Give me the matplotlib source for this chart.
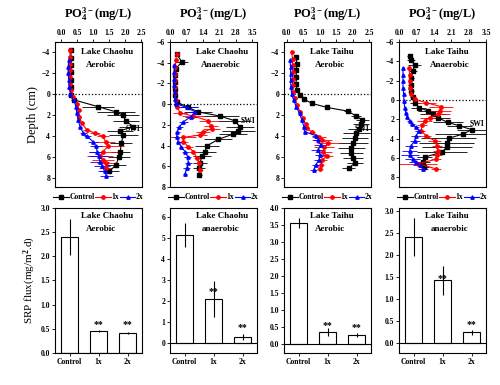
import matplotlib
matplotlib.use('Agg')
from matplotlib import pyplot as plt

plt.rcParams['font.family'] = ['Liberation Serif', 'DejaVu Serif']
plt.rcParams['font.weight'] = 'bold'
plt.rcParams['mathtext.fontset'] = 'custom'
plt.rcParams['mathtext.rm'] = 'Liberation Serif:bold'
plt.rcParams['mathtext.it'] = 'Liberation Serif:bold'
plt.rcParams['mathtext.bf'] = 'Liberation Serif:bold'
plt.rcParams['axes.linewidth'] = 0.8

#profiles: depth (cm), PO4 (mg/L), error
#Lake Chaohu aerobic
CHA_AER_CTRL_D = [-4.2, -3.5, -2.8, -2.1, -1.4, -0.7, 0.1, 0.55, 1.2, 1.7, 2.0, 2.6, 3.1, 3.5, 3.9, 4.7, 5.5, 6.0, 6.75, 7.4]
CHA_AER_CTRL_X = [0.3, 0.3, 0.3, 0.3, 0.3, 0.3, 0.31, 0.4, 1.15, 1.71, 1.92, 2.02, 2.25, 1.84, 1.94, 1.87, 1.84, 1.8, 1.71, 1.5]
CHA_AER_CTRL_E = [0.03, 0.03, 0.03, 0.03, 0.03, 0.03, 0.05, 0.1, 0.5, 0.6, 0.5, 0.4, 0.45, 0.4, 0.45, 0.35, 0.3, 0.35, 0.3, 0.3]
CHA_AER_1X_D = [-4.2, -3.55, -2.9, -2.3, -1.65, -1.0, -0.4, 0.25, 0.9, 1.5, 2.15, 2.8, 3.4, 3.75, 4.05, 4.55, 5.0, 5.5, 5.95, 6.3, 6.6, 7.1]
CHA_AER_1X_X = [0.26, 0.28, 0.28, 0.28, 0.28, 0.28, 0.3, 0.36, 0.5, 0.54, 0.56, 0.64, 0.79, 1.05, 1.3, 1.38, 1.46, 1.3, 1.2, 1.3, 1.4, 1.38]
CHA_AER_1X_E = [0.03, 0.03, 0.03, 0.03, 0.03, 0.03, 0.03, 0.05, 0.05, 0.05, 0.05, 0.05, 0.1, 0.15, 0.2, 0.3, 0.5, 0.45, 0.4, 0.35, 0.3, 0.2]
CHA_AER_2X_D = [-3.25, -2.6, -2.0, -1.35, -0.7, -0.05, 0.55, 1.2, 1.85, 2.5, 3.1, 3.75, 4.05, 4.55, 5.0, 5.5, 5.95, 6.45, 6.9, 7.4, 7.8]
CHA_AER_2X_X = [0.23, 0.21, 0.21, 0.23, 0.25, 0.28, 0.38, 0.46, 0.48, 0.53, 0.58, 0.69, 0.81, 0.99, 1.08, 1.12, 1.16, 1.2, 1.28, 1.35, 1.4]
CHA_AER_2X_E = [0.03, 0.03, 0.03, 0.03, 0.03, 0.03, 0.05, 0.05, 0.05, 0.05, 0.05, 0.1, 0.1, 0.15, 0.2, 0.25, 0.3, 0.3, 0.25, 0.2, 0.2]

#Lake Chaohu anaerobic
CHA_ANA_CTRL_D = [-4.87, -4.07, -3.43, -2.79, -2.15, -1.5, -0.87, -0.22, 0.32, 0.74, 1.15, 1.6, 2.18, 2.56, 2.88, 3.4, 4.0, 4.58, 5.0, 5.7, 6.19, 6.83]
CHA_ANA_CTRL_X = [0.28, 0.5, 0.25, 0.23, 0.21, 0.21, 0.23, 0.28, 0.78, 1.2, 2.12, 2.76, 2.97, 2.9, 2.69, 2.05, 1.58, 1.49, 1.36, 1.27, 1.24, 1.24]
CHA_ANA_CTRL_E = [0.05, 0.25, 0.05, 0.05, 0.05, 0.05, 0.05, 0.1, 0.4, 0.6, 0.8, 0.7, 0.6, 0.7, 0.6, 0.6, 0.5, 0.45, 0.4, 0.3, 0.25, 0.1]
CHA_ANA_1X_D = [-4.87, -4.23, -3.6, -2.95, -2.3, -1.67, -1.03, -0.38, 0.26, 0.83, 1.15, 1.6, 2.12, 2.37, 2.7, 2.98, 3.2, 3.62, 4.1, 4.58, 5.22, 5.7, 6.35]
CHA_ANA_1X_X = [0.28, 0.25, 0.23, 0.21, 0.21, 0.21, 0.21, 0.24, 0.31, 0.42, 0.99, 1.63, 1.73, 1.77, 1.41, 1.27, 0.57, 0.57, 0.78, 0.99, 1.16, 1.22, 1.27]
CHA_ANA_1X_E = [0.03, 0.03, 0.03, 0.03, 0.03, 0.03, 0.03, 0.03, 0.1, 0.3, 0.5, 0.4, 0.3, 0.35, 0.3, 0.3, 0.55, 0.2, 0.2, 0.2, 0.15, 0.15, 0.15]
CHA_ANA_2X_D = [-3.75, -3.1, -2.47, -1.83, -1.19, -0.54, -0.06, 0.32, 0.74, 1.22, 1.7, 2.18, 2.66, 3.14, 3.62, 4.1, 4.58, 5.06, 5.7, 6.19, 6.73]
CHA_ANA_2X_X = [0.18, 0.18, 0.18, 0.18, 0.2, 0.21, 0.25, 0.71, 1.06, 0.88, 0.57, 0.4, 0.31, 0.28, 0.35, 0.47, 0.64, 0.75, 0.78, 0.71, 0.64]
CHA_ANA_2X_E = [0.03, 0.03, 0.03, 0.03, 0.03, 0.03, 0.05, 0.5, 0.3, 0.25, 0.2, 0.15, 0.1, 0.1, 0.1, 0.1, 0.15, 0.15, 0.15, 0.15, 0.1]

#Lake Taihu aerobic
TAI_AER_CTRL_D = [-3.56, -2.92, -2.29, -1.65, -1.02, -0.44, 0.1, 0.48, 0.89, 1.27, 1.62, 2.1, 2.48, 2.86, 3.3, 3.75, 4.22, 4.7, 5.17, 5.65, 6.13, 6.6, 7.08]
TAI_AER_CTRL_X = [0.29, 0.31, 0.29, 0.29, 0.29, 0.31, 0.39, 0.52, 0.77, 1.22, 1.84, 2.11, 2.29, 2.25, 2.19, 2.11, 2.06, 2.01, 1.96, 1.96, 2.01, 2.06, 1.88]
TAI_AER_CTRL_E = [0.05, 0.05, 0.05, 0.05, 0.05, 0.05, 0.05, 0.05, 0.05, 0.05, 0.1, 0.15, 0.2, 0.25, 0.35, 0.4, 0.4, 0.45, 0.4, 0.35, 0.3, 0.25, 0.2]
TAI_AER_1X_D = [-4.03, -3.4, -2.76, -2.13, -1.49, -0.86, -0.22, 0.41, 1.05, 1.68, 2.32, 2.86, 3.27, 3.65, 4.06, 4.38, 4.7, 5.08, 5.49, 5.9, 6.35, 6.76, 7.14]
TAI_AER_1X_X = [0.15, 0.18, 0.18, 0.18, 0.18, 0.18, 0.19, 0.24, 0.31, 0.41, 0.49, 0.57, 0.62, 0.77, 0.98, 1.08, 1.26, 1.13, 1.11, 1.21, 1.08, 1.03, 1.01]
TAI_AER_1X_E = [0.03, 0.03, 0.03, 0.03, 0.03, 0.03, 0.03, 0.03, 0.05, 0.05, 0.05, 0.05, 0.05, 0.1, 0.2, 0.3, 0.35, 0.3, 0.25, 0.2, 0.15, 0.1, 0.1]
TAI_AER_2X_D = [-3.24, -2.6, -1.97, -1.33, -0.7, -0.06, 0.57, 1.21, 1.84, 2.48, 3.11, 3.59, 3.97, 4.38, 4.86, 5.33, 5.81, 6.29, 6.76, 7.24]
TAI_AER_2X_X = [0.1, 0.12, 0.12, 0.12, 0.13, 0.15, 0.21, 0.29, 0.39, 0.46, 0.52, 0.54, 0.88, 0.95, 1.03, 0.95, 1.01, 0.98, 0.88, 0.82]
TAI_AER_2X_E = [0.03, 0.03, 0.03, 0.03, 0.03, 0.03, 0.05, 0.05, 0.05, 0.05, 0.05, 0.05, 0.1, 0.15, 0.2, 0.2, 0.15, 0.15, 0.1, 0.1]

#Lake Taihu anaerobic
TAI_ANA_CTRL_D = [-4.5, -4.1, -3.65, -2.97, -2.29, -1.6, -0.92, -0.34, 0.27, 0.78, 1.13, 1.47, 1.81, 2.32, 2.66, 3.07, 3.52, 3.96, 4.44, 4.88, 5.39, 5.9, 6.42, 6.93]
TAI_ANA_CTRL_X = [0.43, 0.49, 0.63, 0.56, 0.49, 0.47, 0.49, 0.56, 0.63, 0.8, 1.16, 1.36, 1.56, 1.96, 2.43, 2.93, 2.56, 2.0, 1.92, 1.92, 1.73, 1.03, 0.96, 1.0]
TAI_ANA_CTRL_E = [0.1, 0.15, 0.25, 0.15, 0.1, 0.1, 0.1, 0.1, 0.2, 0.3, 0.4, 0.5, 0.5, 0.6, 0.5, 0.6, 1.1, 1.1, 1.1, 1.0, 1.0, 0.3, 0.3, 0.2]
TAI_ANA_1X_D = [-3.31, -2.63, -1.95, -1.26, -0.58, -0.07, 0.27, 0.68, 1.13, 1.47, 1.81, 2.15, 2.59, 3.17, 3.69, 4.2, 4.71, 5.22, 5.67, 6.14, 6.59, 7.1]
TAI_ANA_1X_X = [0.4, 0.43, 0.43, 0.45, 0.49, 0.63, 1.09, 1.69, 1.63, 1.56, 1.23, 1.03, 0.93, 0.89, 1.09, 1.43, 1.52, 1.56, 1.52, 1.47, 0.76, 1.47]
TAI_ANA_1X_E = [0.05, 0.05, 0.05, 0.05, 0.05, 0.1, 0.4, 0.5, 0.45, 0.5, 0.4, 0.3, 0.2, 0.15, 0.2, 0.25, 0.2, 0.2, 0.2, 0.2, 0.75, 0.2]
TAI_ANA_2X_D = [-3.31, -2.63, -1.95, -1.26, -0.58, 0.1, 0.78, 1.3, 1.71, 2.15, 2.49, 2.83, 3.17, 3.69, 4.2, 4.71, 5.22, 5.73, 6.08, 6.42, 6.76, 7.1]
TAI_ANA_2X_X = [0.16, 0.16, 0.16, 0.16, 0.19, 0.2, 0.23, 0.27, 0.32, 0.43, 0.53, 0.69, 0.8, 0.69, 0.63, 0.49, 0.43, 0.45, 0.56, 0.69, 0.83, 0.96]
TAI_ANA_2X_E = [0.03, 0.03, 0.03, 0.03, 0.03, 0.03, 0.05, 0.05, 0.05, 0.1, 0.1, 0.1, 0.15, 0.2, 0.2, 0.25, 0.3, 0.35, 0.3, 0.3, 0.25, 0.2]

#SRP flux bars
BAR_LABELS = ['Control', '1x', '2x']
CHA_AER_FLUX = [2.4, 0.45, 0.42]
CHA_AER_FLUX_E = [0.38, 0.02, 0.02]
CHA_AER_STAR = [None, 0.6, 0.58]
CHA_ANA_FLUX = [5.15, 2.1, 0.3]
CHA_ANA_FLUX_E = [0.55, 0.85, 0.15]
CHA_ANA_STAR = [None, 2.45, 0.75]
TAI_AER_FLUX = [3.55, 0.35, 0.27]
TAI_AER_FLUX_E = [0.15, 0.12, 0.07]
TAI_AER_STAR = [None, 0.55, 0.5]
TAI_ANA_FLUX = [2.4, 1.42, 0.24]
TAI_ANA_FLUX_E = [0.42, 0.33, 0.05]
TAI_ANA_STAR = [None, 1.45, 0.42]

TITLE = r'PO$_4^{3-}$(mg/L)'
FS_TICK = 5.5


def draw_profile(ax, series, xlim, xticks, ylim, yticks, lake, cond, swi_y):
	styles = [('k', 's', 'Control'), ('r', 'o', '1x'), ('b', '^', '2x')]
	for (d, x, e), (c, m, lab) in zip(series, styles):
		ax.errorbar(x, d, xerr=e, color=c, marker=m, markersize=2.4, lw=0.8,
			elinewidth=0.6, capsize=0, label=lab)
	ax.axhline(0, color='k', ls=':', lw=0.9)
	ax.set_xlim(xlim)
	ax.set_ylim(ylim)
	ax.set_xticks(xticks)
	ax.set_yticks(yticks)
	ax.xaxis.tick_top()
	ax.tick_params(labelsize=FS_TICK, length=2, width=0.6, pad=1.5)
	ax.set_title(TITLE, fontsize=9, fontweight='bold', pad=8)
	ax.text(0.98, swi_y, 'SWI', transform=ax.transAxes, ha='right', va='bottom', fontsize=5.5)
	ax.text(0.3, 0.96, lake, transform=ax.transAxes, ha='left', va='top', fontsize=6.5)
	ax.text(0.36, 0.87, cond, transform=ax.transAxes, ha='left', va='top', fontsize=6.5)
	ax.legend(loc='center', bbox_to_anchor=(0.5, -0.07), ncol=3, frameon=False,
		fontsize=5.5, handlelength=2.0, handletextpad=0.1, columnspacing=0.1,
		borderaxespad=0, borderpad=0)


def draw_bars(ax, vals, errs, stars, ylim, yticks, lake, cond):
	pos = range(len(BAR_LABELS))
	ax.bar(pos, vals, width=0.6, color='white', edgecolor='k', lw=0.8)
	ax.errorbar(pos, vals, yerr=errs, fmt='none', ecolor='k', elinewidth=0.8, capsize=0)
	for p, s in zip(pos, stars):
		if s is not None:
			ax.text(p, s, '**', ha='center', va='center', fontsize=7)
	ax.axhline(0, color='k', lw=0.8)
	ax.set_xlim(-0.5, 2.5)
	ax.set_ylim(ylim)
	ax.set_yticks(yticks)
	ax.set_xticks(list(pos))
	ax.set_xticklabels(BAR_LABELS)
	ax.tick_params(labelsize=FS_TICK, length=2, width=0.6, pad=1.5)
	ax.text(0.3, 0.97, lake, transform=ax.transAxes, ha='left', va='top', fontsize=6.5)
	ax.text(0.36, 0.88, cond, transform=ax.transAxes, ha='left', va='top', fontsize=6.5)


def main():
	fig = plt.figure(figsize=(5, 3.85), dpi=100)
	lefts = [0.110, 0.340, 0.568, 0.798]

	top = [fig.add_axes([l, 0.514, 0.174, 0.377]) for l in lefts]
	bottom = [fig.add_axes([l, 0.083, 0.174, 0.377]) for l in lefts]

	draw_profile(top[0], [(CHA_AER_CTRL_D, CHA_AER_CTRL_X, CHA_AER_CTRL_E),
		(CHA_AER_1X_D, CHA_AER_1X_X, CHA_AER_1X_E),
		(CHA_AER_2X_D, CHA_AER_2X_X, CHA_AER_2X_E)],
		(-0.2, 2.52), [0, 0.5, 1.0, 1.5, 2.0, 2.5], (8.9, -5), [-4, -2, 0, 2, 4, 6, 8],
		'Lake Chaohu', 'Aerobic', 0.37)
	draw_profile(top[1], [(CHA_ANA_CTRL_D, CHA_ANA_CTRL_X, CHA_ANA_CTRL_E),
		(CHA_ANA_1X_D, CHA_ANA_1X_X, CHA_ANA_1X_E),
		(CHA_ANA_2X_D, CHA_ANA_2X_X, CHA_ANA_2X_E)],
		(0, 3.7), [0, 0.7, 1.4, 2.1, 2.8, 3.5], (8, -6), [-6, -4, -2, 0, 2, 4, 6, 8],
		'Lake Chaohu', 'Anaerobic', 0.43)
	draw_profile(top[2], [(TAI_AER_CTRL_D, TAI_AER_CTRL_X, TAI_AER_CTRL_E),
		(TAI_AER_1X_D, TAI_AER_1X_X, TAI_AER_1X_E),
		(TAI_AER_2X_D, TAI_AER_2X_X, TAI_AER_2X_E)],
		(-0.08, 2.55), [0, 0.5, 1.0, 1.5, 2.0, 2.5], (8.9, -5), [-4, -2, 0, 2, 4, 6, 8],
		'Lake Taihu', 'Aerobic', 0.37)
	draw_profile(top[3], [(TAI_ANA_CTRL_D, TAI_ANA_CTRL_X, TAI_ANA_CTRL_E),
		(TAI_ANA_1X_D, TAI_ANA_1X_X, TAI_ANA_1X_E),
		(TAI_ANA_2X_D, TAI_ANA_2X_X, TAI_ANA_2X_E)],
		(0, 3.5), [0, 0.7, 1.4, 2.1, 2.8, 3.5], (9, -6), [-6, -4, -2, 0, 2, 4, 6, 8],
		'Lake Taihu', 'Anaerobic', 0.41)
	top[0].set_ylabel('Depth (cm)', fontsize=9, labelpad=2)

	draw_bars(bottom[0], CHA_AER_FLUX, CHA_AER_FLUX_E, CHA_AER_STAR, (0, 3.0),
		[0, 0.5, 1.0, 1.5, 2.0, 2.5, 3.0], 'Lake Chaohu', 'Aerobic')
	draw_bars(bottom[1], CHA_ANA_FLUX, CHA_ANA_FLUX_E, CHA_ANA_STAR, (-0.47, 6.44),
		[0, 1, 2, 3, 4, 5, 6], 'Lake Chaohu', 'anaerobic')
	draw_bars(bottom[2], TAI_AER_FLUX, TAI_AER_FLUX_E, TAI_AER_STAR, (-0.26, 4.0),
		[0, 0.5, 1.0, 1.5, 2.0, 2.5, 3.0, 3.5, 4.0], 'Lake Taihu', 'Aerobic')
	draw_bars(bottom[3], TAI_ANA_FLUX, TAI_ANA_FLUX_E, TAI_ANA_STAR, (-0.23, 3.06),
		[0, 0.5, 1.0, 1.5, 2.0, 2.5, 3.0], 'Lake Taihu', 'anaerobic')
	bottom[0].set_ylabel(r'SRP flux(mg/m$^2$.d)', fontsize=8, labelpad=2)

	for ax in bottom:
		ax.yaxis.set_major_formatter(plt.FormatStrFormatter('%.1f'))
	bottom[1].yaxis.set_major_formatter(plt.FormatStrFormatter('%d'))
	for ax in top:
		ax.xaxis.set_major_formatter(plt.FormatStrFormatter('%.1f'))

	fig.savefig('out.png', dpi=100)


if __name__ == '__main__':
	main()
